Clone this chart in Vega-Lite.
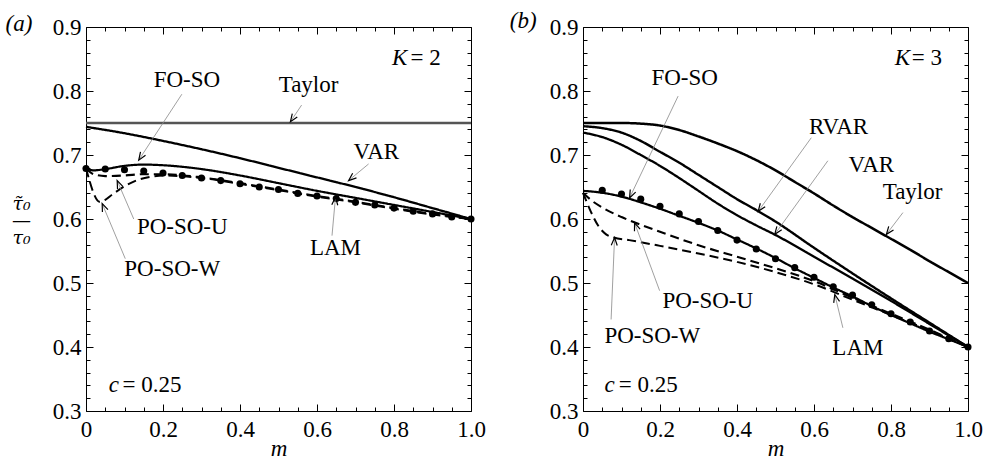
{
  "$schema": "https://vega.github.io/schema/vega-lite/v6.json",
  "background": "white",
  "padding": {"left": 5, "top": 10, "right": 5, "bottom": 5},
  "datasets": {
    "ca": [
      {"s":"Taylor","m":0,"v":0.75},{"s":"Taylor","m":1,"v":0.75},
      {"s":"VAR","m":0,"v":0.744},{"s":"VAR","m":0.1,"v":0.734},{"s":"VAR","m":0.2,"v":0.722},{"s":"VAR","m":0.3,"v":0.709},{"s":"VAR","m":0.4,"v":0.695},{"s":"VAR","m":0.5,"v":0.68},{"s":"VAR","m":0.6,"v":0.665},{"s":"VAR","m":0.7,"v":0.65},{"s":"VAR","m":0.8,"v":0.634},{"s":"VAR","m":0.9,"v":0.617},{"s":"VAR","m":1,"v":0.6},
      {"s":"FO-SO","m":0,"v":0.679},{"s":"FO-SO","m":0.02,"v":0.676},{"s":"FO-SO","m":0.05,"v":0.678},{"s":"FO-SO","m":0.1,"v":0.683},{"s":"FO-SO","m":0.15,"v":0.685},{"s":"FO-SO","m":0.2,"v":0.684},{"s":"FO-SO","m":0.3,"v":0.678},{"s":"FO-SO","m":0.4,"v":0.668},{"s":"FO-SO","m":0.5,"v":0.656},{"s":"FO-SO","m":0.6,"v":0.644},{"s":"FO-SO","m":0.7,"v":0.633},{"s":"FO-SO","m":0.8,"v":0.622},{"s":"FO-SO","m":0.9,"v":0.611},{"s":"FO-SO","m":1,"v":0.6},
      {"s":"PO-SO-U","m":0,"v":0.679},{"s":"PO-SO-U","m":0.02,"v":0.67},{"s":"PO-SO-U","m":0.05,"v":0.667},{"s":"PO-SO-U","m":0.1,"v":0.668},{"s":"PO-SO-U","m":0.15,"v":0.67},{"s":"PO-SO-U","m":0.2,"v":0.67},{"s":"PO-SO-U","m":0.3,"v":0.665},{"s":"PO-SO-U","m":0.4,"v":0.656},{"s":"PO-SO-U","m":0.5,"v":0.646},{"s":"PO-SO-U","m":0.6,"v":0.636},{"s":"PO-SO-U","m":0.7,"v":0.627},{"s":"PO-SO-U","m":0.8,"v":0.617},{"s":"PO-SO-U","m":0.9,"v":0.608},{"s":"PO-SO-U","m":1,"v":0.6},
      {"s":"PO-SO-W","m":0,"v":0.679},{"s":"PO-SO-W","m":0.01,"v":0.658},{"s":"PO-SO-W","m":0.02,"v":0.64},{"s":"PO-SO-W","m":0.035,"v":0.627},{"s":"PO-SO-W","m":0.05,"v":0.63},{"s":"PO-SO-W","m":0.07,"v":0.639},{"s":"PO-SO-W","m":0.1,"v":0.651},{"s":"PO-SO-W","m":0.13,"v":0.66},{"s":"PO-SO-W","m":0.17,"v":0.666},{"s":"PO-SO-W","m":0.2,"v":0.668},{"s":"PO-SO-W","m":0.3,"v":0.664},{"s":"PO-SO-W","m":0.4,"v":0.655},{"s":"PO-SO-W","m":0.5,"v":0.645},{"s":"PO-SO-W","m":0.6,"v":0.635},{"s":"PO-SO-W","m":0.7,"v":0.626},{"s":"PO-SO-W","m":0.8,"v":0.616},{"s":"PO-SO-W","m":0.9,"v":0.607},{"s":"PO-SO-W","m":1,"v":0.6}
    ],
    "da": [
      {"m":0,"v":0.679},{"m":0.05,"v":0.678},{"m":0.1,"v":0.677},{"m":0.15,"v":0.675},{"m":0.2,"v":0.672},{"m":0.25,"v":0.668},{"m":0.3,"v":0.664},{"m":0.35,"v":0.66},{"m":0.4,"v":0.655},{"m":0.45,"v":0.65},{"m":0.5,"v":0.646},{"m":0.55,"v":0.64},{"m":0.6,"v":0.636},{"m":0.65,"v":0.632},{"m":0.7,"v":0.626},{"m":0.75,"v":0.622},{"m":0.8,"v":0.617},{"m":0.85,"v":0.612},{"m":0.9,"v":0.608},{"m":0.95,"v":0.603},{"m":1,"v":0.6}
    ],
    "la": [
      {"t":"FO-SO","m":0.262,"v":0.817},{"t":"Taylor","m":0.578,"v":0.809},{"t":"VAR","m":0.754,"v":0.705},{"t":"LAM","m":0.648,"v":0.555},{"t":"PO-SO-U","m":0.25,"v":0.587},{"t":"PO-SO-W","m":0.224,"v":0.522}
    ],
    "aa": [
      {"m1":0.249,"v1":0.795,"m2":0.137,"v2":0.692},{"m1":0.56,"v1":0.778,"m2":0.531,"v2":0.752},{"m1":0.734,"v1":0.686,"m2":0.682,"v2":0.66},{"m1":0.639,"v1":0.574,"m2":0.648,"v2":0.634},{"m1":0.124,"v1":0.6,"m2":0.081,"v2":0.66},{"m1":0.102,"v1":0.538,"m2":0.042,"v2":0.624}
    ],
    "ia": [{"t":"(a)","m":-0.209,"v":0.905},{"t":"K","m":0.795,"v":0.851},{"t":"c","m":0.059,"v":0.341}],
    "ua": [{"t":"= 2","m":0.843,"v":0.851},{"t":"= 0.25","m":0.095,"v":0.341}],
    "cb": [
      {"s":"Taylor","m":0,"v":0.75},{"s":"Taylor","m":0.1,"v":0.75},{"s":"Taylor","m":0.15,"v":0.749},{"s":"Taylor","m":0.2,"v":0.746},{"s":"Taylor","m":0.25,"v":0.739},{"s":"Taylor","m":0.3,"v":0.729},{"s":"Taylor","m":0.35,"v":0.718},{"s":"Taylor","m":0.4,"v":0.706},{"s":"Taylor","m":0.45,"v":0.692},{"s":"Taylor","m":0.5,"v":0.676},{"s":"Taylor","m":0.55,"v":0.658},{"s":"Taylor","m":0.6,"v":0.64},{"s":"Taylor","m":0.65,"v":0.621},{"s":"Taylor","m":0.7,"v":0.603},{"s":"Taylor","m":0.75,"v":0.586},{"s":"Taylor","m":0.8,"v":0.569},{"s":"Taylor","m":0.85,"v":0.552},{"s":"Taylor","m":0.9,"v":0.534},{"s":"Taylor","m":0.95,"v":0.517},{"s":"Taylor","m":1,"v":0.5},
      {"s":"RVAR","m":0,"v":0.745},{"s":"RVAR","m":0.05,"v":0.742},{"s":"RVAR","m":0.1,"v":0.735},{"s":"RVAR","m":0.15,"v":0.722},{"s":"RVAR","m":0.2,"v":0.705},{"s":"RVAR","m":0.25,"v":0.688},{"s":"RVAR","m":0.3,"v":0.669},{"s":"RVAR","m":0.35,"v":0.65},{"s":"RVAR","m":0.4,"v":0.631},{"s":"RVAR","m":0.45,"v":0.614},{"s":"RVAR","m":0.5,"v":0.596},{"s":"RVAR","m":0.6,"v":0.555},{"s":"RVAR","m":0.7,"v":0.515},{"s":"RVAR","m":0.8,"v":0.476},{"s":"RVAR","m":0.9,"v":0.438},{"s":"RVAR","m":1,"v":0.4},
      {"s":"VAR","m":0,"v":0.735},{"s":"VAR","m":0.05,"v":0.728},{"s":"VAR","m":0.1,"v":0.716},{"s":"VAR","m":0.15,"v":0.7},{"s":"VAR","m":0.2,"v":0.683},{"s":"VAR","m":0.25,"v":0.664},{"s":"VAR","m":0.3,"v":0.644},{"s":"VAR","m":0.35,"v":0.624},{"s":"VAR","m":0.4,"v":0.606},{"s":"VAR","m":0.45,"v":0.59},{"s":"VAR","m":0.5,"v":0.575},{"s":"VAR","m":0.6,"v":0.541},{"s":"VAR","m":0.7,"v":0.507},{"s":"VAR","m":0.8,"v":0.472},{"s":"VAR","m":0.9,"v":0.436},{"s":"VAR","m":1,"v":0.4},
      {"s":"FO-SO","m":0,"v":0.644},{"s":"FO-SO","m":0.05,"v":0.641},{"s":"FO-SO","m":0.1,"v":0.635},{"s":"FO-SO","m":0.15,"v":0.626},{"s":"FO-SO","m":0.2,"v":0.616},{"s":"FO-SO","m":0.25,"v":0.605},{"s":"FO-SO","m":0.3,"v":0.594},{"s":"FO-SO","m":0.35,"v":0.582},{"s":"FO-SO","m":0.4,"v":0.568},{"s":"FO-SO","m":0.45,"v":0.554},{"s":"FO-SO","m":0.5,"v":0.539},{"s":"FO-SO","m":0.55,"v":0.523},{"s":"FO-SO","m":0.6,"v":0.508},{"s":"FO-SO","m":0.65,"v":0.493},{"s":"FO-SO","m":0.7,"v":0.479},{"s":"FO-SO","m":0.75,"v":0.464},{"s":"FO-SO","m":0.8,"v":0.45},{"s":"FO-SO","m":0.85,"v":0.437},{"s":"FO-SO","m":0.9,"v":0.424},{"s":"FO-SO","m":0.95,"v":0.412},{"s":"FO-SO","m":1,"v":0.4},
      {"s":"PO-SO-U","m":0,"v":0.641},{"s":"PO-SO-U","m":0.02,"v":0.63},{"s":"PO-SO-U","m":0.05,"v":0.618},{"s":"PO-SO-U","m":0.1,"v":0.603},{"s":"PO-SO-U","m":0.15,"v":0.591},{"s":"PO-SO-U","m":0.2,"v":0.58},{"s":"PO-SO-U","m":0.3,"v":0.559},{"s":"PO-SO-U","m":0.4,"v":0.541},{"s":"PO-SO-U","m":0.5,"v":0.523},{"s":"PO-SO-U","m":0.6,"v":0.503},{"s":"PO-SO-U","m":0.7,"v":0.477},{"s":"PO-SO-U","m":0.8,"v":0.452},{"s":"PO-SO-U","m":0.9,"v":0.427},{"s":"PO-SO-U","m":1,"v":0.4},
      {"s":"PO-SO-W","m":0,"v":0.641},{"s":"PO-SO-W","m":0.02,"v":0.612},{"s":"PO-SO-W","m":0.04,"v":0.589},{"s":"PO-SO-W","m":0.06,"v":0.576},{"s":"PO-SO-W","m":0.08,"v":0.571},{"s":"PO-SO-W","m":0.12,"v":0.567},{"s":"PO-SO-W","m":0.2,"v":0.558},{"s":"PO-SO-W","m":0.3,"v":0.546},{"s":"PO-SO-W","m":0.4,"v":0.533},{"s":"PO-SO-W","m":0.5,"v":0.517},{"s":"PO-SO-W","m":0.6,"v":0.498},{"s":"PO-SO-W","m":0.7,"v":0.474},{"s":"PO-SO-W","m":0.8,"v":0.45},{"s":"PO-SO-W","m":0.9,"v":0.426},{"s":"PO-SO-W","m":1,"v":0.4}
    ],
    "db": [
      {"m":0.05,"v":0.645},{"m":0.1,"v":0.639},{"m":0.15,"v":0.631},{"m":0.2,"v":0.62},{"m":0.25,"v":0.608},{"m":0.3,"v":0.596},{"m":0.35,"v":0.582},{"m":0.4,"v":0.567},{"m":0.45,"v":0.553},{"m":0.5,"v":0.538},{"m":0.55,"v":0.524},{"m":0.6,"v":0.509},{"m":0.65,"v":0.494},{"m":0.7,"v":0.481},{"m":0.75,"v":0.466},{"m":0.8,"v":0.452},{"m":0.85,"v":0.439},{"m":0.9,"v":0.425},{"m":0.95,"v":0.413},{"m":1,"v":0.4}
    ],
    "lb": [
      {"t":"FO-SO","m":0.264,"v":0.82},{"t":"RVAR","m":0.664,"v":0.744},{"t":"VAR","m":0.749,"v":0.684},{"t":"Taylor","m":0.856,"v":0.642},{"t":"LAM","m":0.714,"v":0.399},{"t":"PO-SO-U","m":0.324,"v":0.472},{"t":"PO-SO-W","m":0.18,"v":0.417}
    ],
    "ab": [
      {"m1":0.247,"v1":0.792,"m2":0.121,"v2":0.633},{"m1":0.593,"v1":0.727,"m2":0.455,"v2":0.612},{"m1":0.636,"v1":0.691,"m2":0.498,"v2":0.576},{"m1":0.831,"v1":0.61,"m2":0.788,"v2":0.576},{"m1":0.675,"v1":0.43,"m2":0.654,"v2":0.482},{"m1":0.199,"v1":0.488,"m2":0.134,"v2":0.594},{"m1":0.073,"v1":0.443,"m2":0.082,"v2":0.571}
    ],
    "ib": [{"t":"(b)","m":-0.19,"v":0.909},{"t":"K","m":0.81,"v":0.851},{"t":"c","m":0.056,"v":0.341}],
    "ub": [{"t":"= 3","m":0.854,"v":0.851},{"t":"= 0.25","m":0.093,"v":0.341}]
  },
  "hconcat": [
    {
      "width": 385, "height": 384,
      "layer": [
        {
          "data": {"name": "ca"},
          "transform": [{"filter": "datum.s != 'Taylor'"}],
          "mark": {"type": "line", "interpolate": "monotone", "color": "black"},
          "encoding": {
            "x": {"field": "m", "type": "quantitative", "scale": {"domain": [0, 1], "nice": false, "zero": false},
              "axis": {"orient": "bottom", "values": [0,0.05,0.1,0.15,0.2,0.25,0.3,0.35,0.4,0.45,0.5,0.55,0.6,0.65,0.7,0.75,0.8,0.85,0.9,0.95,1],
                "tickSize": {"condition": {"test": "abs(datum.value*5-round(datum.value*5))<0.001", "value": -7}, "value": -4},
                "labelExpr": "abs(datum.value*5-round(datum.value*5))<0.001 ? (datum.value==0 ? '0' : format(datum.value,'.1f')) : ''",
                "labelPadding": 14, "title": "m", "titleFontStyle": "italic", "titlePadding": -7}},
            "y": {"field": "v", "type": "quantitative", "scale": {"domain": [0.3, 0.9], "nice": false, "zero": false},
              "axis": {"orient": "left", "values": [0.3,0.32,0.34,0.36,0.38,0.4,0.42,0.44,0.46,0.48,0.5,0.52,0.54,0.56,0.58,0.6,0.62,0.64,0.66,0.68,0.7,0.72,0.74,0.76,0.78,0.8,0.82,0.84,0.86,0.88,0.9],
                "tickSize": {"condition": {"test": "abs(datum.value*10-round(datum.value*10))<0.001", "value": -7}, "value": -4},
                "labelExpr": "abs(datum.value*10-round(datum.value*10))<0.001 ? format(datum.value,'.1f') : ''",
                "labelPadding": 12,
                "title": ["\u03c4\u0303\u2080", "\u2014", "\u03c4\u2080"], "titleFont": "DejaVu Serif", "titleFontSize": 19, "titleFontStyle": "italic", "titleAngle": 0,
                "titleAlign": "center", "titleBaseline": "middle", "titleX": -65, "titleY": 176, "titleLineHeight": 17}},
            "strokeDash": {"field": "s", "type": "nominal", "scale": {"domain": ["Taylor","RVAR","VAR","FO-SO","PO-SO-U","PO-SO-W"], "range": [[1,0],[1,0],[1,0],[1,0],[9,5],[9,5]]}, "legend": null},
            "strokeWidth": {"field": "s", "type": "nominal", "scale": {"domain": ["Taylor","RVAR","VAR","FO-SO","PO-SO-U","PO-SO-W"], "range": [2.5,2,1.4,2.5,1.8,1.8]}, "legend": null}
          }
        },
        {
          "data": {"name": "ca"},
          "transform": [{"filter": "datum.s == 'Taylor'"}],
          "mark": {"type": "line", "color": "#555555", "strokeWidth": 2.5},
          "encoding": {
            "x": {"field": "m", "type": "quantitative",
              "axis": {"orient": "top", "values": [0,0.05,0.1,0.15,0.2,0.25,0.3,0.35,0.4,0.45,0.5,0.55,0.6,0.65,0.7,0.75,0.8,0.85,0.9,0.95,1],
                "tickSize": {"condition": {"test": "abs(datum.value*5-round(datum.value*5))<0.001", "value": -7}, "value": -4},
                "labels": false, "title": null}},
            "y": {"field": "v", "type": "quantitative",
              "axis": {"orient": "right", "values": [0.3,0.32,0.34,0.36,0.38,0.4,0.42,0.44,0.46,0.48,0.5,0.52,0.54,0.56,0.58,0.6,0.62,0.64,0.66,0.68,0.7,0.72,0.74,0.76,0.78,0.8,0.82,0.84,0.86,0.88,0.9],
                "tickSize": {"condition": {"test": "abs(datum.value*10-round(datum.value*10))<0.001", "value": -7}, "value": -4},
                "labels": false, "title": null}}
          }
        },
        {
          "data": {"name": "da"},
          "mark": {"type": "point", "filled": true, "color": "black", "size": 50, "opacity": 1},
          "encoding": {"x": {"field": "m", "type": "quantitative", "axis": null}, "y": {"field": "v", "type": "quantitative", "axis": null}}
        },
        {
          "data": {"name": "aa"},
          "mark": {"type": "rule", "color": "#888888", "strokeWidth": 0.8},
          "encoding": {"x": {"field": "m1", "type": "quantitative", "axis": null}, "y": {"field": "v1", "type": "quantitative", "axis": null}, "x2": {"field": "m2"}, "y2": {"field": "v2"}}
        },
        {
          "data": {"name": "aa"},
          "transform": [{"calculate": "atan2((datum.m2-datum.m1)*385, (datum.v2-datum.v1)*640)*180/PI", "as": "ang"}],
          "mark": {"type": "point", "shape": "M-0.5,1.3L0,0L0.5,1.3", "filled": false, "color": "black", "strokeWidth": 1.2, "size": 144, "opacity": 1},
          "encoding": {"x": {"field": "m2", "type": "quantitative", "axis": null}, "y": {"field": "v2", "type": "quantitative", "axis": null}, "angle": {"field": "ang", "type": "quantitative", "scale": null}}
        },
        {
          "data": {"name": "la"},
          "mark": {"type": "text", "align": "center", "baseline": "middle"},
          "encoding": {"x": {"field": "m", "type": "quantitative", "axis": null}, "y": {"field": "v", "type": "quantitative", "axis": null}, "text": {"field": "t"}}
        },
        {
          "data": {"name": "ia"},
          "mark": {"type": "text", "align": "left", "baseline": "middle", "fontStyle": "italic"},
          "encoding": {"x": {"field": "m", "type": "quantitative", "axis": null}, "y": {"field": "v", "type": "quantitative", "axis": null}, "text": {"field": "t"}}
        },
        {
          "data": {"name": "ua"},
          "mark": {"type": "text", "align": "left", "baseline": "middle"},
          "encoding": {"x": {"field": "m", "type": "quantitative", "axis": null}, "y": {"field": "v", "type": "quantitative", "axis": null}, "text": {"field": "t"}}
        }
      ]
    },
    {
      "width": 385, "height": 384,
      "layer": [
        {
          "data": {"name": "cb"},
          "mark": {"type": "line", "interpolate": "monotone", "color": "black"},
          "encoding": {
            "x": {"field": "m", "type": "quantitative", "scale": {"domain": [0, 1], "nice": false, "zero": false},
              "axis": {"orient": "bottom", "values": [0,0.05,0.1,0.15,0.2,0.25,0.3,0.35,0.4,0.45,0.5,0.55,0.6,0.65,0.7,0.75,0.8,0.85,0.9,0.95,1],
                "tickSize": {"condition": {"test": "abs(datum.value*5-round(datum.value*5))<0.001", "value": -7}, "value": -4},
                "labelExpr": "abs(datum.value*5-round(datum.value*5))<0.001 ? (datum.value==0 ? '0' : format(datum.value,'.1f')) : ''",
                "labelPadding": 14, "title": "m", "titleFontStyle": "italic", "titlePadding": -7}},
            "y": {"field": "v", "type": "quantitative", "scale": {"domain": [0.3, 0.9], "nice": false, "zero": false},
              "axis": {"orient": "left", "values": [0.3,0.32,0.34,0.36,0.38,0.4,0.42,0.44,0.46,0.48,0.5,0.52,0.54,0.56,0.58,0.6,0.62,0.64,0.66,0.68,0.7,0.72,0.74,0.76,0.78,0.8,0.82,0.84,0.86,0.88,0.9],
                "tickSize": {"condition": {"test": "abs(datum.value*10-round(datum.value*10))<0.001", "value": -7}, "value": -4},
                "labelExpr": "abs(datum.value*10-round(datum.value*10))<0.001 ? format(datum.value,'.1f') : ''",
                "labelPadding": 12, "title": null}},
            "strokeDash": {"field": "s", "type": "nominal", "scale": {"domain": ["Taylor","RVAR","VAR","FO-SO","PO-SO-U","PO-SO-W"], "range": [[1,0],[1,0],[1,0],[1,0],[9,5],[9,5]]}, "legend": null},
            "strokeWidth": {"field": "s", "type": "nominal", "scale": {"domain": ["Taylor","RVAR","VAR","FO-SO","PO-SO-U","PO-SO-W"], "range": [2.5,2,1.4,2.5,1.8,1.8]}, "legend": null}
          }
        },
        {
          "data": {"name": "db"},
          "mark": {"type": "point", "filled": true, "color": "black", "size": 50, "opacity": 1},
          "encoding": {
            "x": {"field": "m", "type": "quantitative",
              "axis": {"orient": "top", "values": [0,0.05,0.1,0.15,0.2,0.25,0.3,0.35,0.4,0.45,0.5,0.55,0.6,0.65,0.7,0.75,0.8,0.85,0.9,0.95,1],
                "tickSize": {"condition": {"test": "abs(datum.value*5-round(datum.value*5))<0.001", "value": -7}, "value": -4},
                "labels": false, "title": null}},
            "y": {"field": "v", "type": "quantitative",
              "axis": {"orient": "right", "values": [0.3,0.32,0.34,0.36,0.38,0.4,0.42,0.44,0.46,0.48,0.5,0.52,0.54,0.56,0.58,0.6,0.62,0.64,0.66,0.68,0.7,0.72,0.74,0.76,0.78,0.8,0.82,0.84,0.86,0.88,0.9],
                "tickSize": {"condition": {"test": "abs(datum.value*10-round(datum.value*10))<0.001", "value": -7}, "value": -4},
                "labels": false, "title": null}}
          }
        },
        {
          "data": {"name": "ab"},
          "mark": {"type": "rule", "color": "#888888", "strokeWidth": 0.8},
          "encoding": {"x": {"field": "m1", "type": "quantitative", "axis": null}, "y": {"field": "v1", "type": "quantitative", "axis": null}, "x2": {"field": "m2"}, "y2": {"field": "v2"}}
        },
        {
          "data": {"name": "ab"},
          "transform": [{"calculate": "atan2((datum.m2-datum.m1)*385, (datum.v2-datum.v1)*640)*180/PI", "as": "ang"}],
          "mark": {"type": "point", "shape": "M-0.5,1.3L0,0L0.5,1.3", "filled": false, "color": "black", "strokeWidth": 1.2, "size": 144, "opacity": 1},
          "encoding": {"x": {"field": "m2", "type": "quantitative", "axis": null}, "y": {"field": "v2", "type": "quantitative", "axis": null}, "angle": {"field": "ang", "type": "quantitative", "scale": null}}
        },
        {
          "data": {"name": "lb"},
          "mark": {"type": "text", "align": "center", "baseline": "middle"},
          "encoding": {"x": {"field": "m", "type": "quantitative", "axis": null}, "y": {"field": "v", "type": "quantitative", "axis": null}, "text": {"field": "t"}}
        },
        {
          "data": {"name": "ib"},
          "mark": {"type": "text", "align": "left", "baseline": "middle", "fontStyle": "italic"},
          "encoding": {"x": {"field": "m", "type": "quantitative", "axis": null}, "y": {"field": "v", "type": "quantitative", "axis": null}, "text": {"field": "t"}}
        },
        {
          "data": {"name": "ub"},
          "mark": {"type": "text", "align": "left", "baseline": "middle"},
          "encoding": {"x": {"field": "m", "type": "quantitative", "axis": null}, "y": {"field": "v", "type": "quantitative", "axis": null}, "text": {"field": "t"}}
        }
      ]
    }
  ],
  "spacing": 23,
  "config": {
    "view": {"stroke": null},
    "font": "'Liberation Serif', 'DejaVu Serif', serif",
    "axis": {"labelFont": "'Liberation Serif', 'DejaVu Serif', serif", "labelFontSize": 23, "labelColor": "black", "titleFont": "'Liberation Serif', 'DejaVu Serif', serif", "titleFontSize": 23, "titleFontWeight": "normal", "titleColor": "black", "domainColor": "black", "domainWidth": 1, "tickColor": "black", "tickWidth": 1, "grid": false, "labelOverlap": false, "labelFlush": false, "labelBound": false},
    "text": {"font": "'Liberation Serif', 'DejaVu Serif', serif", "fontSize": 23, "color": "black"}
  }
}
